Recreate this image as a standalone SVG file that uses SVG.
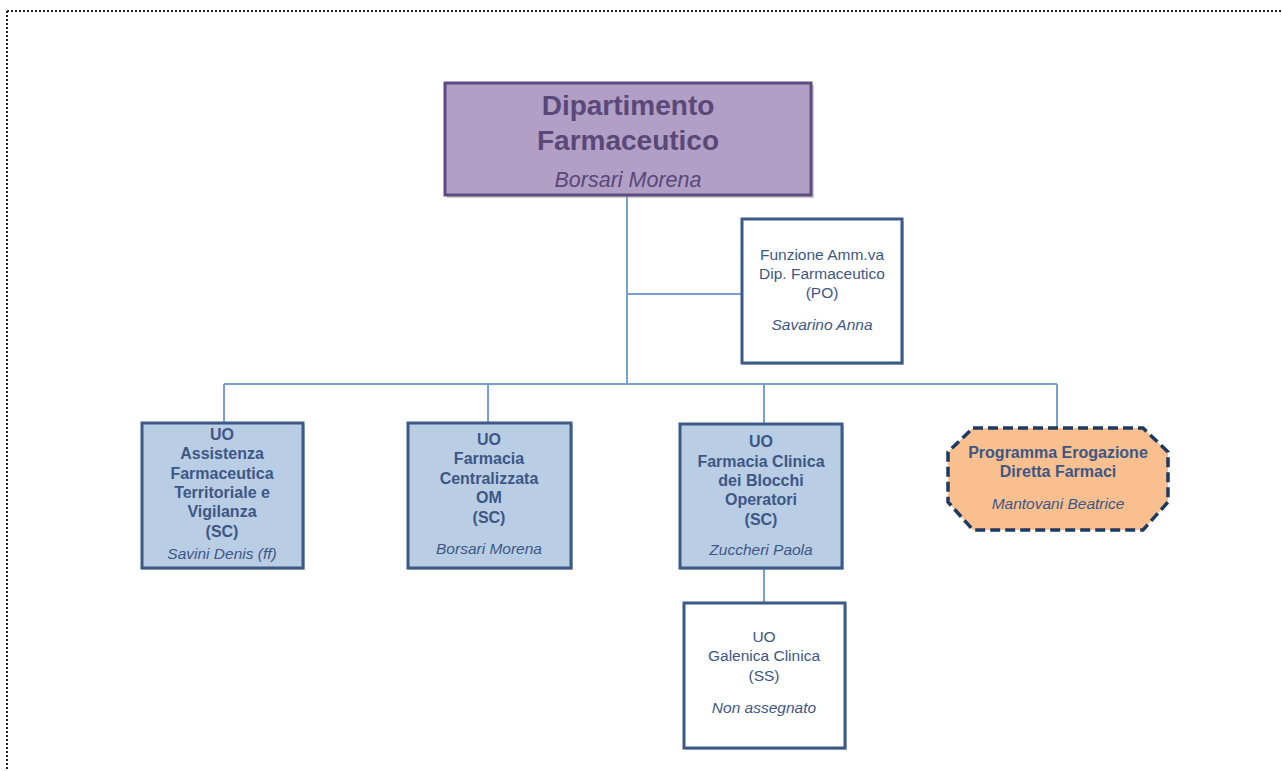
<svg xmlns="http://www.w3.org/2000/svg" width="1282" height="771" viewBox="0 0 1282 771">
<defs>
<style>
.frame{stroke:#222;stroke-width:2;stroke-dasharray:2 2;fill:none}
.conn{stroke:#7b9fd1;stroke-width:2;fill:none}
.shadow{fill:#9a9a9a;opacity:0.5}
.unit{fill:#b9cde5;stroke:#3b5a87;stroke-width:3}
.plain{fill:#ffffff;stroke:#3b5a87;stroke-width:3}
.top{fill:#b19fc6;stroke:#5c4b80;stroke-width:3}
.prog{fill:#f9bf8f;stroke:#1f3a60;stroke-width:3.5;stroke-dasharray:10 5}
text{font-family:"Liberation Sans",Arial,sans-serif;text-anchor:middle}
.b{font-weight:bold;font-size:16px;fill:#3d5785}
.r{font-size:15.5px;fill:#3d5785}
.i{font-style:italic;font-size:15.5px;fill:#3d5785}
.tt{font-weight:bold;font-size:28px;fill:#5a4878}
.ti{font-style:italic;font-size:21.5px;fill:#5a4878}
</style>
</defs>
<rect width="1282" height="771" fill="#ffffff"/>
<path class="frame" d="M7 11 H1282 M7 11 V771"/>
<g id="connectors">
<path class="conn" d="M627 196 V384 M627 294 H742 M224 384 H1057 M224 384 V423 M488 384 V423 M764 384 V424 M1057 384 V428 M764 568 V603"/>
</g>
<g id="dipartimento">
<rect class="shadow" x="447" y="85" width="367" height="113"/>
<rect class="top" x="445" y="83" width="366" height="112"/>
<text class="tt" x="628" y="115">Dipartimento</text>
<text class="tt" x="628" y="150">Farmaceutico</text>
<text class="ti" x="628" y="187">Borsari Morena</text>
</g>
<g id="funzione">
<rect class="shadow" x="743" y="221" width="161" height="144"/>
<rect class="plain" x="742" y="219" width="160" height="144"/>
<text class="r" x="822" y="260">Funzione Amm.va</text>
<text class="r" x="822" y="279">Dip. Farmaceutico</text>
<text class="r" x="822" y="298">(PO)</text>
<text class="i" x="822" y="330">Savarino Anna</text>
</g>
<g id="uo-assistenza">
<rect class="shadow" x="143" y="425" width="162" height="145"/>
<rect class="unit" x="142" y="423" width="161" height="145"/>
<text class="b" x="222" y="440">UO</text>
<text class="b" x="222" y="459">Assistenza</text>
<text class="b" x="222" y="479">Farmaceutica</text>
<text class="b" x="222" y="498">Territoriale e</text>
<text class="b" x="222" y="517">Vigilanza</text>
<text class="b" x="222" y="537">(SC)</text>
<text class="i" x="222" y="559">Savini Denis (ff)</text>
</g>
<g id="uo-centralizzata">
<rect class="shadow" x="409" y="425" width="164" height="145"/>
<rect class="unit" x="408" y="423" width="163" height="145"/>
<text class="b" x="489" y="445">UO</text>
<text class="b" x="489" y="464">Farmacia</text>
<text class="b" x="489" y="484">Centralizzata</text>
<text class="b" x="489" y="503">OM</text>
<text class="b" x="489" y="523">(SC)</text>
<text class="i" x="489" y="554">Borsari Morena</text>
</g>
<g id="uo-clinica">
<rect class="shadow" x="681" y="426" width="163" height="144"/>
<rect class="unit" x="680" y="424" width="162" height="144"/>
<text class="b" x="761" y="447">UO</text>
<text class="b" x="761" y="467">Farmacia Clinica</text>
<text class="b" x="761" y="486">dei Blocchi</text>
<text class="b" x="761" y="505">Operatori</text>
<text class="b" x="761" y="525">(SC)</text>
<text class="i" x="761" y="555">Zuccheri Paola</text>
</g>
<g id="programma">
<path class="prog" d="M973 428 H1143 L1168 452 V502 L1143 530 H973 L948 502 V452 Z"/>
<text class="b" x="1058" y="458">Programma Erogazione</text>
<text class="b" x="1058" y="477">Diretta Farmaci</text>
<text class="i" x="1058" y="509">Mantovani Beatrice</text>
</g>
<g id="uo-galenica">
<rect class="shadow" x="685" y="605" width="162" height="145"/>
<rect class="plain" x="684" y="603" width="161" height="145"/>
<text class="r" x="764" y="642">UO</text>
<text class="r" x="764" y="661">Galenica Clinica</text>
<text class="r" x="764" y="681">(SS)</text>
<text class="i" x="764" y="713">Non assegnato</text>
</g>
</svg>
